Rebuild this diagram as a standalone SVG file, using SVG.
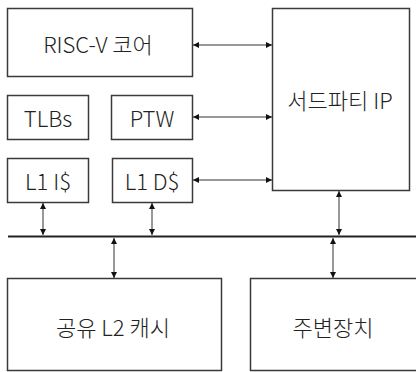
<svg xmlns="http://www.w3.org/2000/svg" width="416" height="372" viewBox="0 0 416 372">
<style>
.box{fill:#fff;stroke:#3a3a3a;stroke-width:1.5}
.t{font-family:"Noto Sans CJK KR","Noto Sans",sans-serif;font-size:22px;font-weight:300;fill:#222;text-anchor:middle;dominant-baseline:central}
.c{stroke:#333;stroke-width:1;fill:none;marker-start:url(#a);marker-end:url(#a)}
.bus{stroke:#222;stroke-width:2}
</style>
<defs>
<marker id="a" viewBox="0 0 10 10" refX="10" refY="5" markerWidth="6" markerHeight="6" orient="auto-start-reverse" markerUnits="userSpaceOnUse"><path d="M0,0 L10,5 L0,10 z" fill="#111"/></marker>
</defs>
<rect width="416" height="372" fill="#fff"/>
<g id="risc"><rect class="box" x="7.5" y="8.5" width="185" height="68"/><text class="t" x="98" y="43">RISC-V 코어</text></g>
<g id="tlbs"><rect class="box" x="7.5" y="95.5" width="81" height="44"/><text class="t" x="48" y="117">TLBs</text></g>
<g id="ptw"><rect class="box" x="111.5" y="95.5" width="81" height="44"/><text class="t" x="152" y="117">PTW</text></g>
<g id="l1i"><rect class="box" x="7.5" y="158.5" width="81" height="44"/><text class="t" x="48" y="180">L1 I$</text></g>
<g id="l1d"><rect class="box" x="112.5" y="158.5" width="80" height="44"/><text class="t" x="152" y="180">L1 D$</text></g>
<g id="ip"><rect class="box" x="272.5" y="8.5" width="137" height="182"/><text class="t" x="340" y="99">서드파티 IP</text></g>
<g id="l2"><rect class="box" x="7.5" y="278.5" width="214" height="92"/><text class="t" x="113" y="326">공유 L2 캐시</text></g>
<g id="periph"><rect class="box" x="250.5" y="278.5" width="170" height="92"/><text class="t" x="333" y="326">주변장치</text></g>
<g id="connectors">
<line class="bus" x1="8" y1="236.5" x2="416" y2="236.5"/>
<line class="c" x1="193" y1="45" x2="272" y2="45"/>
<line class="c" x1="193" y1="117" x2="272" y2="117"/>
<line class="c" x1="193" y1="180" x2="272" y2="180"/>
<line class="c" x1="43" y1="203" x2="43" y2="235"/>
<line class="c" x1="152" y1="203" x2="152" y2="235"/>
<line class="c" x1="339" y1="191" x2="339" y2="235"/>
<line class="c" x1="114" y1="238" x2="114" y2="278"/>
<line class="c" x1="333" y1="238" x2="333" y2="278"/>
</g>
</svg>
